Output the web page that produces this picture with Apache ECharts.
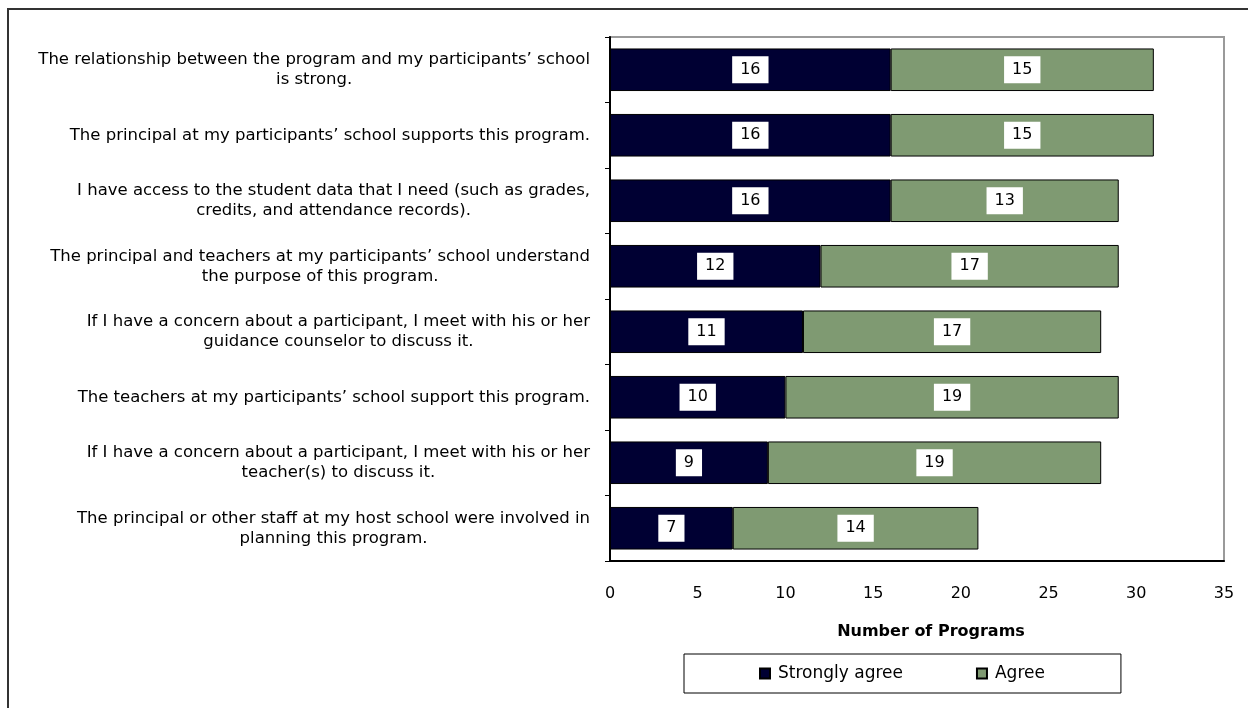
<!DOCTYPE html>
<html>
<head>
<meta charset="utf-8">
<script src="https://cdn.jsdelivr.net/npm/echarts@6/dist/echarts.min.js"></script>
<style>
  html, body { margin: 0; padding: 0; background: #fff; }
  #chart { width: 1248px; height: 708px; }
</style>
</head>
<body>
<div id="chart"></div>
<script>
// Survey statements (top to bottom), one line break where the label wraps
const statements = [
  "The relationship between the program and my participants\u2019 school\nis strong.",
  "The principal at my participants\u2019 school supports this program.",
  "I have access to the student data that I need (such as grades,\ncredits, and attendance records).",
  "The principal and teachers at my participants\u2019 school understand\nthe purpose of this program.",
  "If I have a concern about a participant, I meet with his or her\nguidance counselor to discuss it.",
  "The teachers at my participants\u2019 school support this program.",
  "If I have a concern about a participant, I meet with his or her\nteacher(s) to discuss it.",
  "The principal or other staff at my host school were involved in\nplanning this program."
];
const stronglyAgree = [16, 16, 16, 12, 11, 10, 9, 7];
const agree = [15, 15, 13, 17, 17, 19, 19, 14];
const seriesNames = ["Strongly agree", "Agree"];
const axisTitle = "Number of Programs";

const FONT = '"DejaVu Sans", "Liberation Sans", Arial, sans-serif';
const NAVY = '#000033';
const SAGE = '#7F9A72';

const valueLabel = {
  show: true,
  position: 'inside',
  color: '#000',
  fontFamily: FONT,
  fontSize: 16,
  backgroundColor: '#fff',
  padding: [5, 8, 4, 8],
  lineHeight: 18
};

const chart = echarts.init(document.getElementById('chart'), null, { renderer: 'canvas' });
chart.setOption({
  animation: false,
  backgroundColor: '#fff',
  textStyle: { fontFamily: FONT, color: '#000' },
  grid: {
    left: 610, right: 24, top: 37, bottom: 147,
    show: true, borderColor: '#9a9a9a', borderWidth: 2, backgroundColor: 'transparent'
  },
  xAxis: {
    type: 'value',
    min: 0, max: 35, interval: 5,
    name: axisTitle,
    nameLocation: 'middle',
    nameGap: 63,
    nameTextStyle: { fontFamily: FONT, fontSize: 16, fontWeight: 'bold', color: '#000', padding: [0, 0, 0, 28] },
    axisLine: { show: true, lineStyle: { color: '#000', width: 2 } },
    axisTick: { show: false },
    splitLine: { show: false },
    axisLabel: { color: '#000', fontFamily: FONT, fontSize: 16, margin: 25 }
  },
  yAxis: {
    type: 'category',
    inverse: true,
    data: statements,
    axisLine: { show: true, lineStyle: { color: '#000', width: 2 } },
    axisTick: { show: true, length: 5, lineStyle: { color: '#000', width: 1 } },
    axisLabel: {
      align: 'right',
      margin: 20,
      color: '#000',
      fontFamily: FONT,
      fontSize: 16.5,
      lineHeight: 20,
      formatter: function (v) {
        return v.split('\n').map(function (l) { return '{c|' + l + '}'; }).join('\n');
      },
      rich: {
        c: { align: 'center', fontFamily: FONT, fontSize: 16.5, lineHeight: 20, color: '#000' }
      }
    }
  },
  legend: {
    left: 684, top: 654,
    orient: 'horizontal',
    borderColor: '#000', borderWidth: 1,
    padding: [11, 76, 11, 75],
    itemWidth: 10, itemHeight: 10, itemGap: 73,
    icon: 'rect',
    textStyle: { fontFamily: FONT, fontSize: 17, color: '#000', padding: [0, 0, 0, 3] },
    data: seriesNames
  },
  series: [
    {
      name: seriesNames[0], type: 'bar', stack: 'total',
      barCategoryGap: '35%',
      data: stronglyAgree,
      itemStyle: { color: NAVY, borderColor: '#000', borderWidth: 1 },
      label: valueLabel
    },
    {
      name: seriesNames[1], type: 'bar', stack: 'total',
      barCategoryGap: '35%',
      data: agree,
      itemStyle: { color: SAGE, borderColor: '#000', borderWidth: 1 },
      label: valueLabel
    }
  ],
  graphic: [
    {
      type: 'rect', silent: true, z: 100,
      shape: { x: 8, y: 9, width: 1400, height: 900 },
      style: { fill: 'none', stroke: '#333', lineWidth: 2 }
    }
  ]
});
</script>
</body>
</html>
